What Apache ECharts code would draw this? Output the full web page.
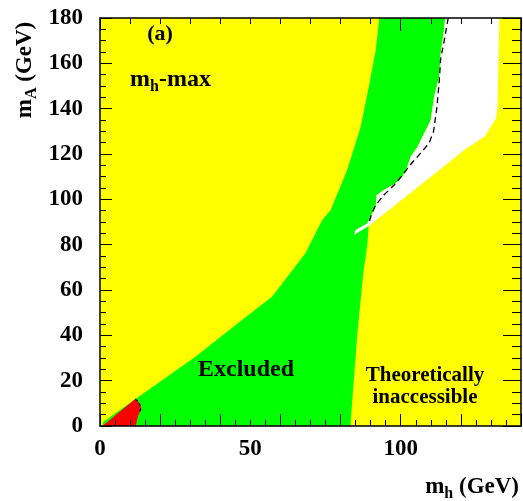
<!DOCTYPE html>
<html>
<head>
<meta charset="utf-8">
<script src="https://cdn.jsdelivr.net/npm/echarts@6/dist/echarts.min.js"></script>
<style>
html,body{margin:0;padding:0;background:#fff;}
#wrap{position:relative;width:523px;height:501px;}
#fills,#chart{position:absolute;left:0;top:0;width:523px;height:501px;}
</style>
</head>
<body>
<div id="wrap">
  <div id="fills"></div>
  <div id="chart"></div>
</div>
<script>
// ---- data (m_h, m_A in GeV) ----
const xTickLabels = [0, 50, 100];
const yTickLabels = [0, 20, 40, 60, 80, 100, 120, 140, 160, 180];
const xRange = [0, 140];
const yRange = [0, 180];

// Excluded region (green): left boundary bottom->top, then right boundary top->bottom
const excludedRegion = [
  [0.8,0],[1.1,1.9],[11.7,11.8],[31.7,30.6],[47.2,46.8],[57.2,57.0],[68.3,76.2],
  [73.9,90.9],[76.7,95.3],[82.2,112.9],[86.7,132.0],[89.4,149.7],[91.7,165.9],[92.9,180],
  [114.8,180],[114.4,174.7],[113.3,164.4],[112.8,154.1],[111.1,145.3],[110,135],
  [107.8,129.1],[105.6,123.2],[103.3,118.8],[102.2,114.4],[100.6,110],[98.3,107.1],
  [94.4,104.1],[92,101.9],[91.7,96.8],[90,92.3],[89.4,89.4],
  [88.9,80],[87.6,68],[85.6,41],[83.9,11.5],[83.3,0]
];

// Allowed region (white)
const allowedRegion = [
  [114.8,180],[114.4,174.7],[113.3,164.4],[112.8,154.1],[111.1,145.3],[110,135],
  [107.8,129.1],[105.6,123.2],[103.3,118.8],[102.2,114.4],[100.6,110],[98.3,107.1],
  [94.4,104.1],[92,101.9],[91.7,96.8],[90,92.3],[88.9,89.4],[85,86.5],[84.4,84.3],
  [89.4,88.2],[116.7,117.0],[121.1,121.8],[127.8,127.6],[131.7,135.7],[132.2,140.9],[132.8,180]
];

// Red region at low masses
const redRegion = [
  [0.8,0],[11.7,11.9],[12.8,10.7],[13.7,7.8],[12.6,4.1],[11.9,0]
];
const redEdge = [[11.7,11.9],[12.8,10.7],[13.7,7.8],[12.9,5.5]];

// Dashed expected limit line
const expectedLine = [
  [115.8,180],[114.4,169.5],[113.3,162.2],[112.8,151.9],[112,140.2],[110.9,129.8],
  [109.4,124.7],[106.1,119.6],[103.1,115.1],[100.6,110.7],[97.8,106.3],[94.4,101.9],
  [91.7,97.5],[90.2,93.1],[89.4,89.4]
];

const FONT = '"Liberation Serif", "DejaVu Serif", serif';
const GRID = { left: 100, right: 2, top: 18, bottom: 75 };

// ---------- layer 1: filled regions (drawn underneath) ----------
function polySeries(points, color) {
  return {
    type: 'custom', coordinateSystem: 'cartesian2d', clip: true, silent: true,
    data: [0],
    renderItem: function (params, api) {
      return {
        type: 'polygon',
        shape: { points: points.map(p => api.coord(p)) },
        style: { fill: color, stroke: null }
      };
    }
  };
}
const fillChart = echarts.init(document.getElementById('fills'), null, { renderer: 'canvas' });
const hiddenAxis = { axisLine: { show: false, onZero: false }, axisTick: { show: false }, axisLabel: { show: false }, splitLine: { show: false } };
fillChart.setOption({
  animation: false,
  backgroundColor: '#ffffff',
  grid: Object.assign({}, GRID),
  xAxis: Object.assign({ type: 'value', min: xRange[0], max: xRange[1], interval: 20 }, hiddenAxis),
  yAxis: Object.assign({ type: 'value', min: yRange[0], max: yRange[1], interval: 20 }, hiddenAxis),
  series: [
    {
      type: 'custom', coordinateSystem: 'cartesian2d', silent: true, data: [0],
      renderItem: function (params) {
        const cs = params.coordSys;
        return { type: 'rect', shape: { x: cs.x, y: cs.y, width: cs.width, height: cs.height }, style: { fill: '#ffff00' } };
      }
    },
    polySeries(excludedRegion, '#00ff00'),
    polySeries(allowedRegion, '#ffffff'),
    polySeries(redRegion, '#ff0000')
  ]
});

// ---------- layer 2: axes, ticks, lines and text (drawn on top) ----------
const chart = echarts.init(document.getElementById('chart'), null, { renderer: 'canvas' });

function frameLine() { return { show: true, onZero: false, lineStyle: { color: '#000', width: 1.5 } }; }
function noLine() { return { show: false, onZero: false }; }
function tickStyle() { return { color: '#000', width: 1 }; }

chart.setOption({
  animation: false,
  backgroundColor: 'rgba(0,0,0,0)',
  grid: Object.assign({}, GRID),
  xAxis: [
    { // bottom ticks
      type: 'value', position: 'bottom', min: xRange[0], max: xRange[1], interval: 20,
      axisLine: frameLine(),
      axisTick: { show: true, inside: true, length: 12, lineStyle: tickStyle() },
      minorTick: { show: true, splitNumber: 4, length: 6, lineStyle: tickStyle() },
      axisLabel: { show: false }, splitLine: { show: false }
    },
    { // bottom labels
      type: 'value', position: 'bottom', min: xRange[0], max: xRange[1], interval: 50,
      axisLine: noLine(), axisTick: { show: false }, splitLine: { show: false },
      axisLabel: {
        show: true, margin: 12, showMaxLabel: false,
        color: '#000', fontFamily: FONT, fontWeight: 'bold', fontSize: 23,
        formatter: v => (xTickLabels.indexOf(v) >= 0 ? String(v) : '')
      }
    },
    { // top ticks
      type: 'value', position: 'top', min: xRange[0], max: xRange[1], interval: 10,
      axisLine: frameLine(),
      axisTick: { show: true, inside: true, length: 6, lineStyle: tickStyle() },
      axisLabel: { show: false }, splitLine: { show: false }
    },
    { // top long tick
      type: 'value', position: 'top', min: xRange[0], max: xRange[1], interval: 100,
      axisLine: noLine(),
      axisTick: { show: true, inside: true, length: 13, lineStyle: tickStyle() },
      axisLabel: { show: false }, splitLine: { show: false }
    }
  ],
  yAxis: [
    {
      type: 'value', position: 'left', min: yRange[0], max: yRange[1], interval: 20,
      axisLine: frameLine(),
      axisTick: { show: true, inside: true, length: 12, lineStyle: tickStyle() },
      minorTick: { show: true, splitNumber: 4, length: 6, lineStyle: tickStyle() },
      axisLabel: {
        show: true, margin: 17, color: '#000', fontFamily: FONT, fontWeight: 'bold', fontSize: 23,
        formatter: v => (yTickLabels.indexOf(v) >= 0 ? String(v) : '')
      },
      splitLine: { show: false }
    },
    {
      type: 'value', position: 'right', min: yRange[0], max: yRange[1], interval: 20,
      axisLine: frameLine(),
      axisTick: { show: true, inside: true, length: 18, lineStyle: tickStyle() },
      minorTick: { show: true, splitNumber: 4, length: 9, lineStyle: tickStyle() },
      axisLabel: { show: false }, splitLine: { show: false }
    }
  ],
  series: [
    {
      type: 'line', xAxisIndex: 0, yAxisIndex: 0, silent: true,
      data: expectedLine, symbol: 'none', smooth: false,
      lineStyle: { color: '#000', width: 1.3, type: [6, 4] }
    },
    {
      type: 'line', xAxisIndex: 0, yAxisIndex: 0, silent: true,
      data: redEdge, symbol: 'none',
      lineStyle: { color: '#000', width: 1.2, type: [3, 3] }
    }
  ],
  graphic: [
    {
      type: 'text', x: 160, y: 34,
      style: { text: '(a)', fill: '#000', font: 'bold 22px ' + FONT, align: 'center', verticalAlign: 'middle' }
    },
    {
      type: 'text', x: 130, y: 80,
      style: {
        text: '{m|m}{s|h}{m|-max}', align: 'left', verticalAlign: 'middle',
        rich: {
          m: { fontSize: 24, fontWeight: 'bold', fontFamily: FONT, fill: '#000' },
          s: { fontSize: 16, fontWeight: 'bold', fontFamily: FONT, fill: '#000', padding: [14, 0, 0, 0] }
        }
      }
    },
    {
      type: 'text', x: 246, y: 370,
      style: { text: 'Excluded', fill: '#000', font: 'bold 24px ' + FONT, align: 'center', verticalAlign: 'middle' }
    },
    {
      type: 'text', x: 425, y: 387,
      style: { text: 'Theoretically\ninaccessible', fill: '#000', font: 'bold 21px ' + FONT, lineHeight: 22, align: 'center', verticalAlign: 'middle' }
    },
    {
      type: 'text', x: 519, y: 487,
      style: {
        text: '{m|m}{s|h}{m| (GeV)}', align: 'right', verticalAlign: 'middle',
        rich: {
          m: { fontSize: 23, fontWeight: 'bold', fontFamily: FONT, fill: '#000' },
          s: { fontSize: 16, fontWeight: 'bold', fontFamily: FONT, fill: '#000', padding: [14, 0, 0, 0] }
        }
      }
    },
    {
      type: 'text', x: 25, y: 70, rotation: Math.PI / 2,
      style: {
        text: '{m|m}{s|A}{m| (GeV)}', align: 'center', verticalAlign: 'middle',
        rich: {
          m: { fontSize: 23, fontWeight: 'bold', fontFamily: FONT, fill: '#000' },
          s: { fontSize: 16, fontWeight: 'bold', fontFamily: FONT, fill: '#000', padding: [14, 0, 0, 0] }
        }
      }
    }
  ]
});
</script>
</body>
</html>
